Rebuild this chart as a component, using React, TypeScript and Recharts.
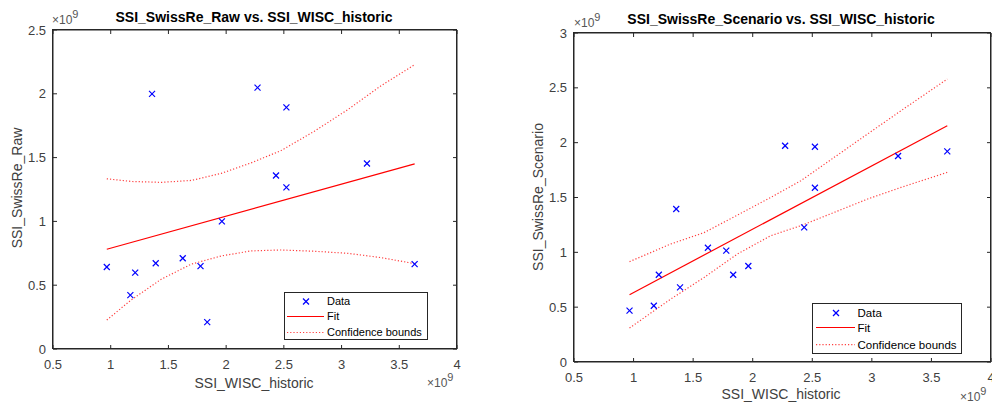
import React from 'react'
import { ScatterChart, Scatter, XAxis, YAxis } from 'recharts'

// x values (SSI_WISC_historic, x1e9)
const wiscHistoric = [0.966, 1.17, 1.212, 1.358, 1.39, 1.624, 1.778, 1.836, 1.963, 2.272, 2.432, 2.522, 2.522, 3.22, 3.633]
const swissReRaw = [0.643, 0.422, 0.599, 2.0, 0.672, 0.711, 0.649, 0.211, 1.0, 2.048, 1.36, 1.894, 1.267, 1.454, 0.665]
const swissReScenario = [0.468, 0.513, 0.796, 1.395, 0.68, 1.042, 1.015, 0.796, 0.875, 1.972, 1.227, 1.963, 1.589, 1.878, 1.92]

const fitX = [0.966, 3.633]
const rawFit = [0.782, 1.451]
const scenarioFit = [0.614, 2.155]

const rawBoundX = [0.966, 1.178, 1.438, 1.698, 1.957, 2.217, 2.476, 2.765, 3.054, 3.343, 3.633]
const rawUpper = [1.334, 1.313, 1.306, 1.321, 1.376, 1.459, 1.555, 1.707, 1.876, 2.064, 2.228]
const rawLower = [0.227, 0.385, 0.547, 0.665, 0.729, 0.769, 0.776, 0.766, 0.75, 0.716, 0.669]

const scenBoundX = [0.966, 1.312, 1.592, 1.872, 2.152, 2.404, 2.684, 2.964, 3.244, 3.633]
const scenUpper = [0.915, 1.076, 1.18, 1.34, 1.501, 1.653, 1.866, 2.079, 2.291, 2.58]
const scenLower = [0.31, 0.574, 0.771, 0.985, 1.152, 1.243, 1.364, 1.486, 1.592, 1.729]

const xTicks = [0.5, 1, 1.5, 2, 2.5, 3, 3.5, 4]
const rawTicks = [0, 0.5, 1, 1.5, 2, 2.5]
const scenTicks = [0, 0.5, 1, 1.5, 2, 2.5, 3]

const FONT = '"Liberation Sans", Arial, sans-serif'
const AXIS = '#262626'
const TXT = '#404040'

const zip = (xs: number[], ys: number[]) => xs.map((x, i) => ({ x, y: ys[i] }))

const Cross = (props: any) => {
  const { cx, cy } = props
  if (cx == null || cy == null) return <g />
  const s = 3
  return (
    <g stroke="#0000ff" strokeWidth={1.2}>
      <line x1={cx - s} y1={cy - s} x2={cx + s} y2={cy + s} />
      <line x1={cx - s} y1={cy + s} x2={cx + s} y2={cy - s} />
    </g>
  )
}
const NoDot = () => <g />

interface PanelProps {
  ys: number[]
  fit: number[]
  boundX: number[]
  upper: number[]
  lower: number[]
  yMax: number
  yTicks: number[]
  width: number
  rightW: number
  margin: { top: number; right: number; bottom: number; left: number }
}

// box around the plot area (MATLAB "box on")
const Frame = ({ left, top, w, h }: { left: number; top: number; w: number; h: number }) => (
  <div style={{ position: 'absolute', left, top, width: w, height: h, border: `1px solid ${AXIS}`, boxSizing: 'border-box', pointerEvents: 'none' }} />
)

const Panel = ({ ys, fit, boundX, upper, lower, yMax, yTicks, width, rightW, margin }: PanelProps) => {
  const tickStyle = { fill: TXT, fontSize: 13, fontFamily: FONT }
  const line = { stroke: AXIS }
  return (
    <ScatterChart width={width} height={405} margin={margin}>
      <XAxis xAxisId={0} type="number" dataKey="x" domain={[0.5, 4]} ticks={xTicks} allowDataOverflow
        height={30} tickSize={-4} tickMargin={15} axisLine={line} tickLine={line} tick={tickStyle} interval={0} />
      <XAxis xAxisId="top" orientation="top" type="number" dataKey="x" domain={[0.5, 4]} ticks={xTicks} allowDataOverflow
        height={5} tickSize={-4} tickFormatter={() => ''} axisLine={line} tickLine={line} interval={0} />
      <YAxis yAxisId={0} type="number" dataKey="y" domain={[0, yMax]} ticks={yTicks} allowDataOverflow
        width={40} tickSize={-4} tickMargin={11} axisLine={line} tickLine={line} tick={tickStyle} interval={0} />
      <YAxis yAxisId="right" orientation="right" type="number" dataKey="y" domain={[0, yMax]} ticks={yTicks} allowDataOverflow
        width={rightW} tickSize={-4} tickFormatter={() => ''} axisLine={line} tickLine={line} interval={0} />
      <Scatter xAxisId="top" yAxisId="right" data={zip(wiscHistoric, ys)} shape={NoDot} isAnimationActive={false} legendType="none" />
      <Scatter data={zip(boundX, upper)} line={{ stroke: '#ff4040', strokeWidth: 1.2, strokeDasharray: '1.2 2' }}
        shape={NoDot} isAnimationActive={false} legendType="none" />
      <Scatter data={zip(boundX, lower)} line={{ stroke: '#ff4040', strokeWidth: 1.2, strokeDasharray: '1.2 2' }}
        shape={NoDot} isAnimationActive={false} legendType="none" />
      <Scatter data={zip(fitX, fit)} line={{ stroke: '#ff0000', strokeWidth: 1.2 }}
        shape={NoDot} isAnimationActive={false} legendType="none" />
      <Scatter data={zip(wiscHistoric, ys)} shape={Cross} isAnimationActive={false} />
    </ScatterChart>
  )
}

const Legend = ({ left, top, w, h, rows, mx, lx1, lx2, tx, fs }: any) => (
  <svg style={{ position: 'absolute', left, top, background: '#fff' }} width={w} height={h}>
    <rect x={0.5} y={0.5} width={w - 1} height={h - 1} fill="#fff" stroke={AXIS} />
    <g stroke="#0000ff" strokeWidth={1.2}>
      <line x1={mx - 3} y1={rows[0] - 3} x2={mx + 3} y2={rows[0] + 3} />
      <line x1={mx - 3} y1={rows[0] + 3} x2={mx + 3} y2={rows[0] - 3} />
    </g>
    <line x1={lx1} x2={lx2} y1={rows[1]} y2={rows[1]} stroke="#ff0000" strokeWidth={1.2} />
    <line x1={lx1} x2={lx2} y1={rows[2]} y2={rows[2]} stroke="#ff4040" strokeWidth={1.2} strokeDasharray="1.2 2" />
    {['Data', 'Fit', 'Confidence bounds'].map((t, i) => (
      <text key={t} x={tx} y={rows[i]} dy="0.35em" fontSize={fs} fontFamily={FONT} fill="#000">{t}</text>
    ))}
  </svg>
)

const abs = (left: number, top: number, extra: React.CSSProperties = {}): React.CSSProperties => ({
  position: 'absolute', left, top, transform: 'translate(-50%, -50%)', whiteSpace: 'nowrap', fontFamily: FONT, ...extra,
})

const Exp = ({ left, top }: { left: number; top: number }) => (
  <div style={{ position: 'absolute', left, top, fontFamily: FONT, fontSize: 12, color: '#555', whiteSpace: 'nowrap' }}>
    ×10<span style={{ fontSize: 11, position: 'relative', top: -6 }}>9</span>
  </div>
)

export default function App() {
  return (
    <div style={{ position: 'absolute', left: 0, top: 0, width: 992, height: 405, background: '#fff', overflow: 'hidden' }}>
      {/* half-pixel offset keeps the 1px axis lines crisp */}
      <div style={{ position: 'absolute', left: 0.5, top: 0.5 }}>
        <Panel ys={swissReRaw} fit={rawFit} boundX={rawBoundX} upper={rawUpper} lower={rawLower}
          yMax={2.5} yTicks={rawTicks} width={484} rightW={5} margin={{ top: 24, right: 23, bottom: 27, left: 12 }} />
      </div>
      <div style={{ position: 'absolute', left: 510.5, top: 0.5 }}>
        <Panel ys={swissReScenario} fit={scenarioFit} boundX={scenBoundX} upper={scenUpper} lower={scenLower}
          yMax={3} yTicks={scenTicks} width={482} rightW={2} margin={{ top: 27, right: 0, bottom: 14, left: 23 }} />
      </div>
      <Frame left={52} top={29} w={405} h={320} />
      <Frame left={573} top={32} w={418} h={330} />

      <div style={abs(254, 17, { fontSize: 14, fontWeight: 'bold', color: '#000' })}>SSI_SwissRe_Raw vs. SSI_WISC_historic</div>
      <div style={abs(781, 19, { fontSize: 14, fontWeight: 'bold', color: '#000' })}>SSI_SwissRe_Scenario vs. SSI_WISC_historic</div>

      <div style={abs(254, 383, { fontSize: 14, color: TXT })}>SSI_WISC_historic</div>
      <div style={abs(781, 394, { fontSize: 14, color: TXT })}>SSI_WISC_historic</div>
      <div style={abs(17, 188, { fontSize: 14, color: TXT, transform: 'translate(-50%, -50%) rotate(-90deg)' })}>SSI_SwissRe_Raw</div>
      <div style={abs(538, 197, { fontSize: 14, color: TXT, transform: 'translate(-50%, -50%) rotate(-90deg)' })}>SSI_SwissRe_Scenario</div>

      <Exp left={52} top={13} />
      <Exp left={574} top={16} />
      <Exp left={427} top={376} />
      <Exp left={960} top={390} />

      <Legend left={284} top={292} w={144} h={48} rows={[9.5, 24.5, 40.5]} mx={22} lx1={3} lx2={40} tx={43} fs={11} />
      <Legend left={812} top={303} w={150} h={51} rows={[10, 24.5, 41.7]} mx={24} lx1={4} lx2={43} tx={45.5} fs={11.5} />
    </div>
  )
}
